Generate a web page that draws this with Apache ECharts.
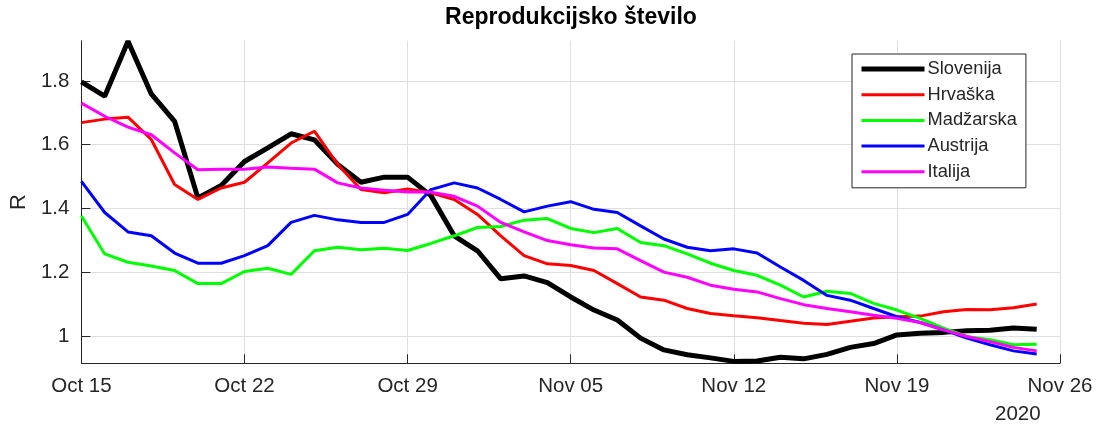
<!DOCTYPE html>
<html>
<head>
<meta charset="utf-8">
<script src="https://cdn.jsdelivr.net/npm/echarts@6/dist/echarts.min.js"></script>
<style>html,body{margin:0;padding:0;background:#fff}#c{width:1098px;height:425px}</style>
</head>
<body>
<div id="c"></div>
<script>
const days = ['Oct 15','Oct 16','Oct 17','Oct 18','Oct 19','Oct 20','Oct 21','Oct 22','Oct 23','Oct 24','Oct 25','Oct 26','Oct 27','Oct 28','Oct 29','Oct 30','Oct 31','Nov 01','Nov 02','Nov 03','Nov 04','Nov 05','Nov 06','Nov 07','Nov 08','Nov 09','Nov 10','Nov 11','Nov 12','Nov 13','Nov 14','Nov 15','Nov 16','Nov 17','Nov 18','Nov 19','Nov 20','Nov 21','Nov 22','Nov 23','Nov 24','Nov 25'];
const xTickLabels = ['Oct 15','Oct 22','Oct 29','Nov 05','Nov 12','Nov 19','Nov 26'];
const yTicks = [1, 1.2, 1.4, 1.6, 1.8];
const seriesNames = ['Slovenija','Hrvaška','Madžarska','Austrija','Italija'];

const slovenija = [1.797,1.752,1.924,1.759,1.673,1.433,1.472,1.547,1.59,1.634,1.615,1.538,1.482,1.498,1.498,1.44,1.314,1.267,1.179,1.188,1.167,1.122,1.081,1.05,0.993,0.956,0.941,0.931,0.92,0.921,0.933,0.928,0.942,0.964,0.976,1.003,1.008,1.011,1.016,1.018,1.025,1.021];
const hrvaska = [1.669,1.68,1.686,1.616,1.475,1.428,1.464,1.482,1.543,1.605,1.642,1.538,1.459,1.449,1.461,1.449,1.428,1.381,1.314,1.252,1.226,1.221,1.205,1.164,1.122,1.112,1.086,1.07,1.063,1.057,1.048,1.04,1.036,1.046,1.056,1.06,1.062,1.076,1.083,1.082,1.088,1.1];
const madzarska = [1.376,1.257,1.231,1.219,1.205,1.164,1.164,1.202,1.212,1.193,1.267,1.278,1.27,1.275,1.268,1.29,1.314,1.34,1.343,1.363,1.368,1.337,1.324,1.337,1.293,1.283,1.257,1.228,1.205,1.19,1.159,1.122,1.14,1.133,1.102,1.081,1.055,1.024,0.998,0.988,0.972,0.974];
const austrija = [1.485,1.387,1.326,1.314,1.26,1.228,1.228,1.252,1.283,1.356,1.378,1.364,1.356,1.356,1.381,1.459,1.48,1.464,1.428,1.389,1.407,1.421,1.397,1.387,1.345,1.304,1.278,1.267,1.273,1.26,1.216,1.174,1.127,1.112,1.086,1.06,1.042,1.019,0.993,0.972,0.953,0.943];
const italija = [1.73,1.689,1.655,1.631,1.574,1.521,1.523,1.523,1.53,1.526,1.523,1.48,1.464,1.457,1.451,1.451,1.438,1.407,1.356,1.326,1.299,1.286,1.276,1.273,1.236,1.2,1.184,1.159,1.146,1.138,1.117,1.098,1.086,1.076,1.065,1.055,1.042,1.019,0.998,0.982,0.964,0.953];

const allValues = [slovenija, hrvaska, madzarska, austrija, italija];
const colors = ['#000000','#ff0000','#00ff00','#0000ff','#ff00ff'];
const widths = [5, 3, 3, 3, 3];

const FONT = "'Liberation Sans', Arial, Helvetica, sans-serif";
const AX = '#262626';
const GRID = '#dfdfdf';

const chart = echarts.init(document.getElementById('c'), null, {renderer: 'canvas'});
chart.setOption({
  animation: false,
  backgroundColor: '#ffffff',
  textStyle: {fontFamily: FONT},
  title: {
    text: 'Reprodukcijsko število',
    left: 571, top: 6, textAlign: 'center', padding: 0,
    textStyle: {fontFamily: FONT, fontSize: 23, fontWeight: 'bold', color: '#000'}
  },
  legend: {
    orient: 'vertical', left: 852, top: 54,
    padding: [6, 9, 7, 7],
    itemWidth: 63, itemHeight: 18, itemGap: 7.7,
    borderColor: AX, borderWidth: 1, backgroundColor: '#fff',
    itemStyle: {opacity: 0},
    textStyle: {fontFamily: FONT, fontSize: 18.3, color: AX, padding: [0,0,0,-2]},
    data: seriesNames.map((n, k) => ({name: n, lineStyle: {color: colors[k], width: widths[k]}}))
  },
  grid: {left: 80, right: 38, top: 40.7, bottom: 61.7, containLabel: false},
  xAxis: {
    type: 'value', min: 0, max: 42, interval: 7,
    axisLine: {show: true, lineStyle: {color: AX, width: 1}},
    axisTick: {show: true, inside: true, length: 9, lineStyle: {color: AX}},
    axisLabel: {
      show: true, margin: 13, fontSize: 20.5, color: AX, fontFamily: FONT,
      showMinLabel: true, showMaxLabel: true,
      formatter: v => xTickLabels[Math.round(v / 7)] || ''
    },
    splitLine: {show: true, lineStyle: {color: GRID, width: 1}}
  },
  yAxis: {
    type: 'value', min: 0.914, max: 1.926,
    name: 'R', nameLocation: 'middle', nameGap: 44, nameRotate: 90,
    nameTextStyle: {fontFamily: FONT, fontSize: 22, color: AX},
    axisLine: {show: true, lineStyle: {color: AX, width: 1}},
    axisTick: {show: true, inside: true, length: 9, lineStyle: {color: AX}, customValues: yTicks},
    axisLabel: {show: true, margin: 12, fontSize: 20.5, color: AX, fontFamily: FONT, customValues: yTicks},
    splitLine: {show: true, lineStyle: {color: GRID, width: 1}}
  },
  graphic: [{
    type: 'text', left: 995, top: 404,
    style: {text: '2020', fontFamily: FONT, fontSize: 20.5, fill: AX}
  }],
  series: seriesNames.map((name, k) => ({
    name: name, type: 'line', symbol: 'none', showSymbol: false,
    data: allValues[k].map((v, i) => [i, v]),
    lineStyle: {color: colors[k], width: widths[k]},
    itemStyle: {color: colors[k]},
    emphasis: {disabled: true}
  }))
});
</script>
</body>
</html>
